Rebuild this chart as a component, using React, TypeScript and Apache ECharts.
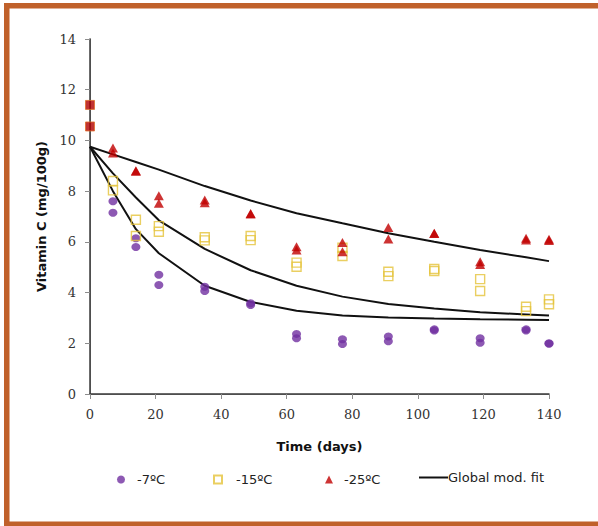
import React, { useEffect, useRef } from "react";
import * as echarts from "echarts";

const days = [7, 14, 21, 35, 49, 63, 77, 91, 105, 119, 133, 140];
const c7a = [7.6, 6.14, 4.7, 4.23, 3.58, 2.37, 2.16, 2.27, 2.55, 2.2, 2.55, 2.0];
const c7b = [7.15, 5.8, 4.3, 4.06, 3.51, 2.2, 1.97, 2.08, 2.5, 2.02, 2.5, 1.98];
const c15a = [8.4, 6.87, 6.62, 6.18, 6.23, 5.18, 5.77, 4.82, 4.93, 4.53, 3.44, 3.73];
const c15b = [8.03, 6.23, 6.4, 6.06, 6.07, 5.02, 5.44, 4.65, 4.85, 4.06, 3.27, 3.54];
const c25a = [9.7, 8.8, 7.82, 7.65, 7.12, 5.81, 5.97, 6.57, 6.34, 5.22, 6.14, 6.1];
const c25b = [9.5, 8.78, 7.52, 7.54, 7.1, 5.68, 5.61, 6.11, 6.33, 5.11, 6.07, 6.05];
const day0 = [11.4, 10.55];

const fitDays = [0, 7, 14, 21, 35, 49, 63, 77, 91, 105, 119, 133, 140];
const fit7 = [9.75, 8.0, 6.5, 5.55, 4.27, 3.63, 3.28, 3.1, 3.02, 2.98, 2.95, 2.93, 2.92];
const fit15 = [9.75, 8.7, 7.75, 6.85, 5.72, 4.88, 4.27, 3.84, 3.55, 3.37, 3.22, 3.14, 3.1];
const fit25 = [9.75, 9.45, 9.15, 8.85, 8.2, 7.63, 7.13, 6.73, 6.34, 6.0, 5.68, 5.39, 5.24];

const xTicks = [0, 20, 40, 60, 80, 100, 120, 140];
const yTicks = [0, 2, 4, 6, 8, 10, 12, 14];

const names = ["-7ºC", "-15ºC", "-25ºC", "Global mod. fit"];

const pairs = (a: number[], b: number[]) =>
  days.flatMap((d, i) => [
    [d, a[i]],
    [d, b[i]],
  ]);

export default function App() {
  const ref = useRef<HTMLDivElement>(null);
  useEffect(() => {
    document.body.style.margin = "0";
    const chart = echarts.init(ref.current!, undefined, { renderer: "svg" });
    const frame = "#C0612B";
    const legendText = { fontFamily: "DejaVu Sans", fontSize: 13, color: "#222" };
    const fitSeries = [fit7, fit15, fit25].map((f) => ({
      type: "line",
      name: names[3],
      data: fitDays.map((d, i) => [d, f[i]]),
      symbol: "none",
      lineStyle: { color: "#111", width: 2 },
      itemStyle: { color: "#111" },
      z: 2,
    }));
    chart.setOption({
      animation: false,
      backgroundColor: "#fff",
      grid: { left: 90, right: 49, top: 39, bottom: 132 },
      xAxis: [
        {
          type: "value",
          min: 0,
          max: 140,
          interval: 20,
          name: "Time (days)",
          nameLocation: "middle",
          nameGap: 46,
          nameTextStyle: { fontFamily: "DejaVu Sans", fontWeight: "bold", fontSize: 13, color: "#111" },
          axisLine: { show: true, lineStyle: { color: "#8c8c8c", width: 1 } },
          axisTick: { show: true, length: 5, lineStyle: { color: "#8c8c8c" } },
          axisLabel: {
            margin: 14,
            fontFamily: "DejaVu Serif",
            fontSize: 13,
            color: "#333",
            formatter: (v: number) => (xTicks.includes(v) ? String(v) : ""),
          },
          splitLine: { show: false },
        },
        {
          type: "value",
          position: "top",
          min: 0,
          max: 140,
          axisLine: { show: true, lineStyle: { color: "#3a3a3a", width: 1.5 } },
          axisTick: { show: false },
          axisLabel: { show: false },
          splitLine: { show: false },
        },
      ],
      yAxis: [
        {
          type: "value",
          min: 0,
          max: 14,
          interval: 2,
          name: "Vitamin C (mg/100g)",
          nameLocation: "middle",
          nameGap: 42,
          nameTextStyle: { fontFamily: "DejaVu Sans", fontWeight: "bold", fontSize: 13, color: "#111" },
          axisLine: { show: true, lineStyle: { color: "#8c8c8c", width: 1 } },
          axisTick: { show: true, length: 5, lineStyle: { color: "#8c8c8c" } },
          axisLabel: {
            margin: 14,
            fontFamily: "DejaVu Serif",
            fontSize: 13,
            color: "#333",
            formatter: (v: number) => (yTicks.includes(v) ? String(v) : ""),
          },
          splitLine: { show: false },
        },
        {
          type: "value",
          position: "right",
          min: 0,
          max: 14,
          axisLine: { show: true, lineStyle: { color: "#3a3a3a", width: 1.5 } },
          axisTick: { show: false },
          axisLabel: { show: false },
          splitLine: { show: false },
        },
      ],
      legend: [
        {
          data: [names[0]],
          left: 112,
          top: 468,
          itemWidth: 8,
          itemHeight: 8,
          textStyle: { ...legendText, padding: [0, 0, 0, 7] },
        },
        {
          data: [names[1]],
          left: 208,
          top: 468,
          itemWidth: 8,
          itemHeight: 8,
          textStyle: { ...legendText, padding: [0, 0, 0, 9] },
        },
        {
          data: [names[2]],
          left: 320,
          top: 468,
          itemWidth: 8,
          itemHeight: 8,
          textStyle: { ...legendText, padding: [0, 0, 0, 6] },
        },
        {
          data: [{ name: names[3], icon: "rect" }],
          left: 414,
          top: 466,
          itemWidth: 29,
          itemHeight: 2,
          itemGap: 0,
          textStyle: { ...legendText, padding: [0, 0, 0, -5] },
        },
      ],
      graphic: [
        { type: "rect", shape: { x: 4, y: 3, width: 594, height: 5.5 }, style: { fill: frame }, z: 100 },
        { type: "rect", shape: { x: 4, y: 3, width: 5.5, height: 523 }, style: { fill: frame }, z: 100 },
        { type: "rect", shape: { x: 4, y: 521.5, width: 594, height: 5 }, style: { fill: frame }, z: 100 },
      ],
      series: [
        ...fitSeries,
        {
          type: "scatter",
          name: names[0],
          data: pairs(c7a, c7b),
          symbol: "circle",
          symbolSize: [9, 8],
          itemStyle: { color: "#7030A0" },
          z: 3,
        },
        {
          type: "scatter",
          name: names[1],
          data: pairs(c15a, c15b),
          symbol: "rect",
          symbolSize: 9,
          itemStyle: { color: "rgba(255,255,255,0)", borderColor: "#E5C33A", borderWidth: 1.4 },
          z: 3,
        },
        {
          type: "scatter",
          name: names[2],
          data: pairs(c25a, c25b),
          symbol: "triangle",
          symbolSize: [10, 9],
          itemStyle: { color: "#C00000" },
          z: 4,
        },
        {
          type: "scatter",
          name: "initial",
          data: day0.map((v) => [0, v]),
          symbol: "rect",
          symbolSize: 9,
          itemStyle: { color: "#B00000", borderColor: "#E0702A", borderWidth: 1 },
          z: 5,
        },
      ],
    });
    return () => chart.dispose();
  }, []);
  return <div ref={ref} style={{ width: 598, height: 526 }} />;
}
